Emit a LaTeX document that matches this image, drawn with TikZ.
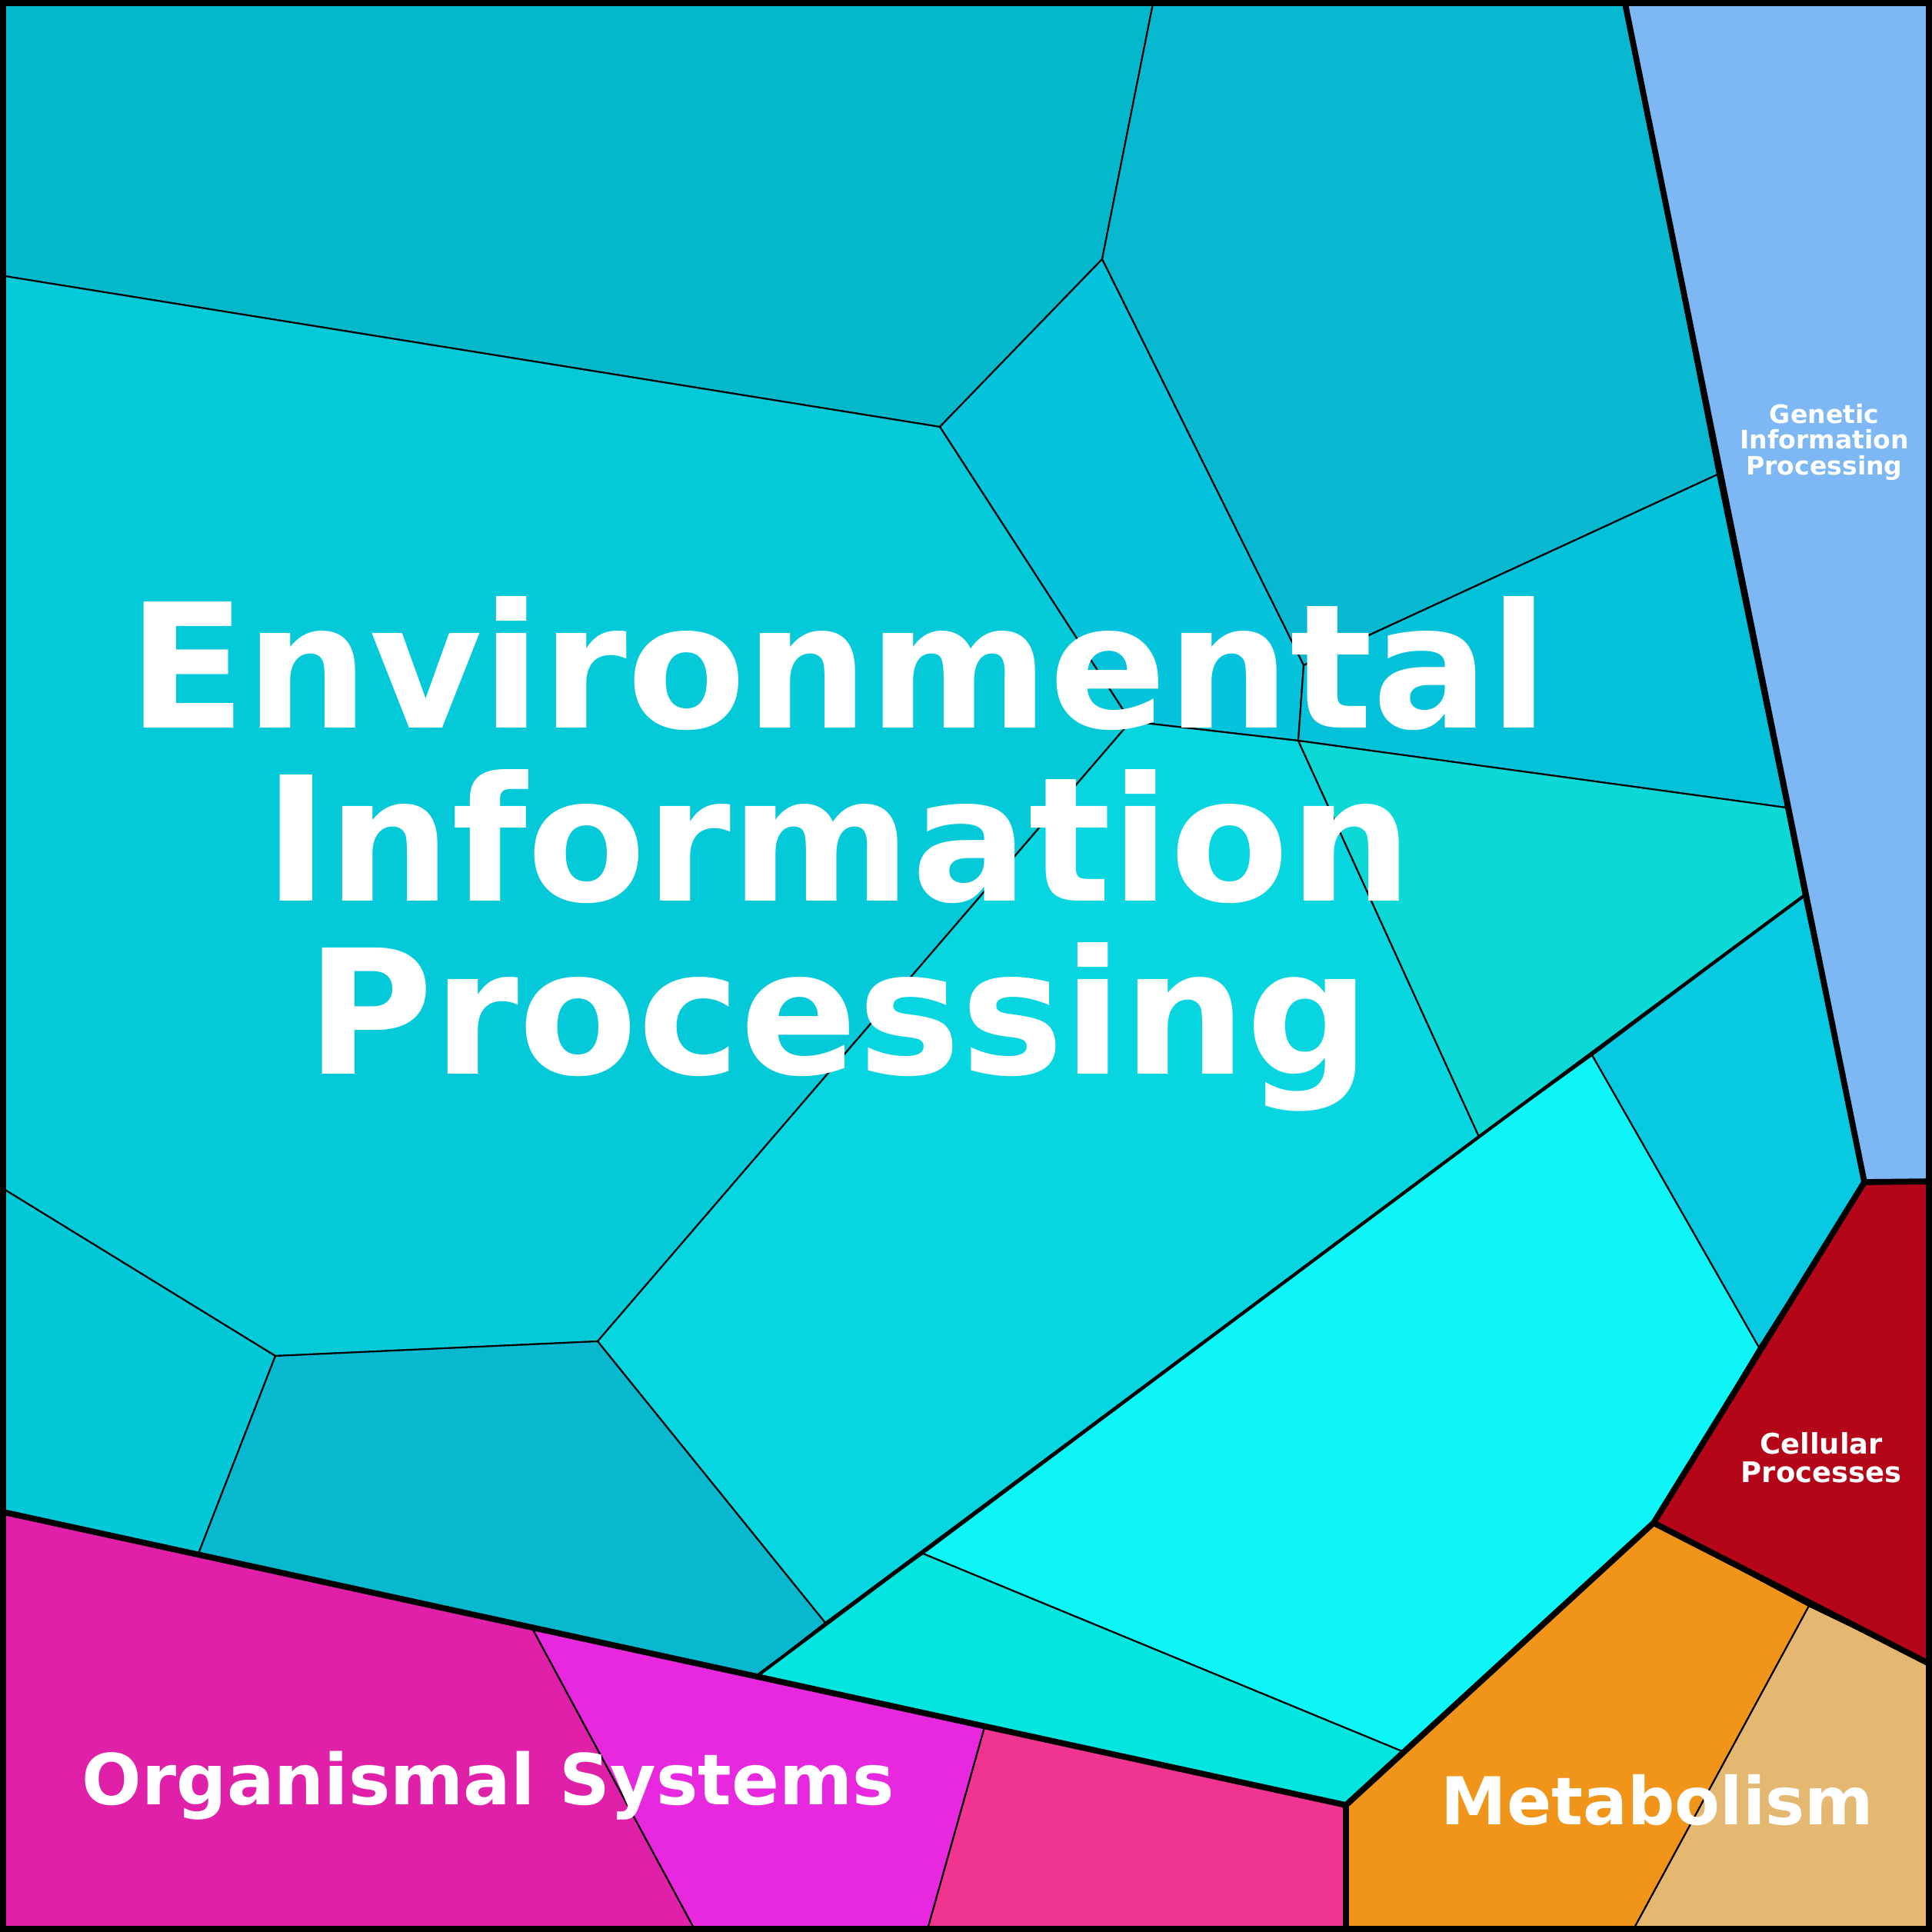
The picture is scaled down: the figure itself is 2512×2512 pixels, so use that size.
\documentclass[tikz,border=0pt]{standalone}
\usepackage{fontspec}
\setsansfont{DejaVu Sans}
\definecolor{cA}{HTML}{03B8CB}
\definecolor{cB}{HTML}{08B8D0}
\definecolor{cC}{HTML}{06C3DD}
\definecolor{cD}{HTML}{03C1D8}
\definecolor{cE}{HTML}{03C9D8}
\definecolor{cF}{HTML}{07D5E0}
\definecolor{cG}{HTML}{0CD8D5}
\definecolor{cH}{HTML}{07CAE2}
\definecolor{cI}{HTML}{0EF5F8}
\definecolor{cJ}{HTML}{03E5DE}
\definecolor{cK}{HTML}{03C8D8}
\definecolor{cL}{HTML}{08B8CE}
\definecolor{oA}{HTML}{E020A8}
\definecolor{oB}{HTML}{E828DF}
\definecolor{oC}{HTML}{F03590}
\definecolor{mA}{HTML}{F0941A}
\definecolor{mB}{HTML}{E5B872}
\definecolor{cellred}{HTML}{B40618}
\definecolor{genblue}{HTML}{7DB8F5}
\begin{document}
\begin{tikzpicture}[x=0.01cm,y=-0.01cm,
  cell/.style={draw=black,line width=0.6pt,line join=round},
  border/.style={draw=black,line width=2.2pt,line join=round},
  label node/.style={text=white,font=\sffamily\bfseries,align=center}]
  \useasboundingbox (0,0) rectangle (2512,2512);
  % environmental cells
  \filldraw[cell,fill=cA] (0,0)--(1500,0)--(1433,337)--(1222,555)--(0,358)--cycle;
  \filldraw[cell,fill=cB] (1500,0)--(2112,0)--(2233,617)--(1695,865)--(1433,337)--cycle;
  \filldraw[cell,fill=cC] (1222,555)--(1433,337)--(1695,865)--(1688,963)--(1470,938)--cycle;
  \filldraw[cell,fill=cD] (1695,865)--(2233,617)--(2322,1050)--(1688,963)--cycle;
  \filldraw[cell,fill=cE] (0,358)--(1222,555)--(1470,938)--(777,1744)--(358,1763)--(0,1543)--cycle;
  \filldraw[cell,fill=cF] (1470,938)--(1688,963)--(1923,1478)--(1073,2110)--(777,1744)--cycle;
  \filldraw[cell,fill=cG] (1688,963)--(2322,1050)--(2345,1165)--(1923,1478)--cycle;
  \filldraw[cell,fill=cH] (2345,1165)--(2424,1537)--(2287,1752)--(2070,1372)--cycle;
  \filldraw[cell,fill=cI] (1923,1478)--(2070,1372)--(2287,1752)--(2150,1980)--(1823,2277)--(1200,2020)--cycle;
  \filldraw[cell,fill=cJ] (1200,2020)--(1823,2277)--(1750,2347)--(983,2180)--(1073,2110)--cycle;
  \filldraw[cell,fill=cK] (0,1543)--(358,1763)--(258,2020)--(0,1965)--cycle;
  \filldraw[cell,fill=cL] (358,1763)--(777,1744)--(1073,2110)--(983,2180)--(692,2117)--(258,2020)--cycle;
  % organismal systems
  \filldraw[cell,fill=oA] (0,1965)--(692,2117)--(905,2512)--(0,2512)--cycle;
  \filldraw[cell,fill=oB] (692,2117)--(1280,2246)--(1205,2512)--(905,2512)--cycle;
  \filldraw[cell,fill=oC] (1280,2246)--(1750,2347)--(1750,2512)--(1205,2512)--cycle;
  % metabolism
  \filldraw[cell,fill=mA] (1750,2347)--(2150,1980)--(2352,2088)--(2122,2512)--(1750,2512)--cycle;
  \filldraw[cell,fill=mB] (2352,2088)--(2512,2165)--(2512,2512)--(2122,2512)--cycle;
  % cellular and genetic
  \filldraw[cell,fill=cellred] (2424,1537)--(2512,1536)--(2512,2165)--(2352,2088)--(2150,1980)--(2287,1752)--cycle;
  \filldraw[cell,fill=genblue] (2112,0)--(2512,0)--(2512,1536)--(2424,1537)--cycle;
  % category borders
  \draw[border] (2112,0)--(2424,1537)--(2512,1536);
  \draw[border] (2424,1537)--(2150,1980)--(2512,2165);
  \draw[border] (2150,1980)--(1750,2347)--(1750,2512);
  \draw[border] (0,1965)--(1750,2347);
  \draw[cell,line width=1.2pt] (983,2180)--(1923,1478)--(2345,1165);
  \draw[draw=black,line width=4.5pt] (0,0) rectangle (2512,2512);
  % labels
  \node[label node,font=\sffamily\bfseries\fontsize{64}{64}\selectfont] (env) at (1090,1110) {Environmental\\Information\\Processing};
  \node[label node,font=\sffamily\bfseries\fontsize{26}{30}\selectfont] (org) at (635,2322) {Organismal Systems};
  \node[label node,font=\sffamily\bfseries\fontsize{24.4}{30}\selectfont] (met) at (2155,2340) {Metabolism};
  \node[label node,font=\sffamily\bfseries\fontsize{9.4}{9.5}\selectfont] (gen) at (2372,575) {Genetic\\Information\\Processing};
  \node[label node,font=\sffamily\bfseries\fontsize{10.5}{10.5}\selectfont] (cel) at (2368,1895) {Cellular\\Processes};
\end{tikzpicture}
\end{document}
